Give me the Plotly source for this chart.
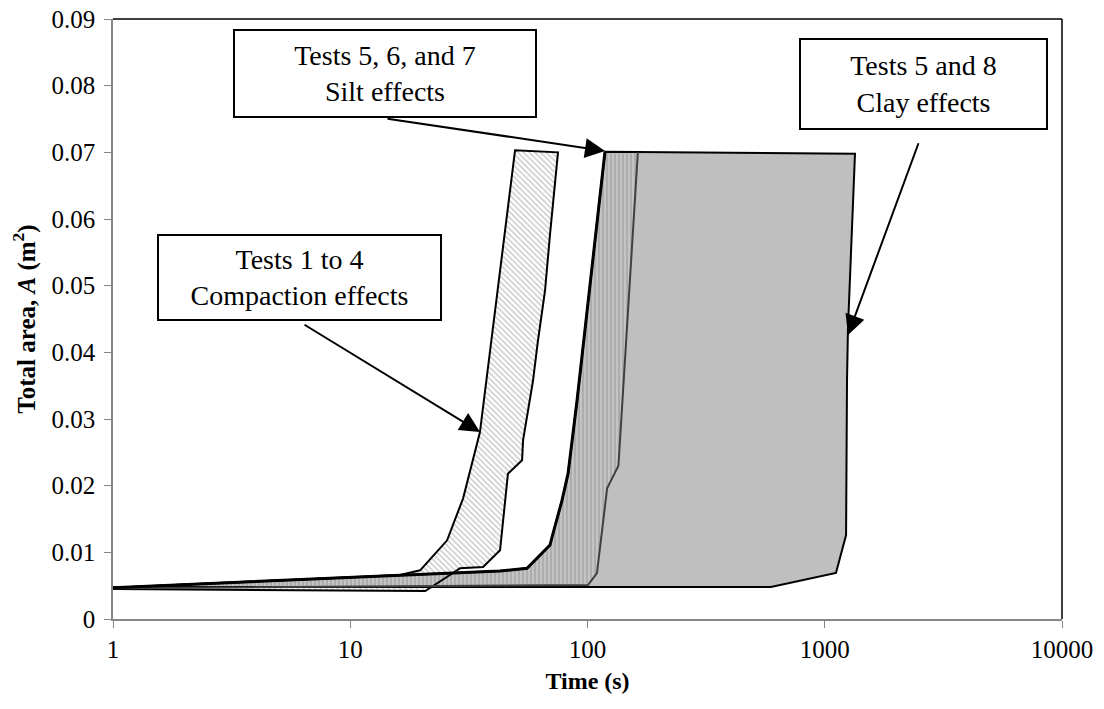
import numpy as np
import plotly.graph_objects as go

# ---- data ----
# Tests 1 to 4 (compaction effects): fastest and slowest curves
comp_fast_t = [1, 16.2, 19.7, 25.6, 29.9, 35.2, 49.5]
comp_fast_A = [0.0047, 0.0066, 0.0073, 0.0118, 0.0181, 0.0280, 0.0703]
comp_slow_t = [1, 20.7, 21.7, 27.1, 29.0, 36.3, 42.8, 46.2, 53.0, 53.5, 58.9, 61.8, 66.2, 69.5, 75.1]
comp_slow_A = [0.0045, 0.0042, 0.0046, 0.0069, 0.0076, 0.0078, 0.0103, 0.0218, 0.0238, 0.0268, 0.0357, 0.0417, 0.0492, 0.0577, 0.0700]

# Tests 5, 6 and 7 (silt effects)
silt_fast_t = [1, 16.2, 42.8, 55.6, 69.5, 70.9, 78.1, 82.8, 86.0, 90.3, 118.5]
silt_fast_A = [0.0047, 0.0066, 0.0072, 0.0076, 0.0111, 0.0123, 0.0178, 0.0218, 0.0268, 0.0327, 0.0701]
silt_slow_t = [1, 100.5, 109.6, 121, 135, 137, 141, 163]
silt_slow_A = [0.0046, 0.0051, 0.0069, 0.0196, 0.0230, 0.0268, 0.0327, 0.0700]

# Tests 5 and 8 (clay effects): slowest curve
clay_slow_t = [1, 593, 1115, 1230, 1241, 1253, 1341]
clay_slow_A = [0.0048, 0.0048, 0.0069, 0.0126, 0.0357, 0.0437, 0.0698]

x_ticks = [1, 10, 100, 1000, 10000]
x_ticktext = ["1", "10", "100", "1000", "10000"]
y_ticks = [0, 0.01, 0.02, 0.03, 0.04, 0.05, 0.06, 0.07, 0.08, 0.09]
y_ticktext = ["0", "0.01", "0.02", "0.03", "0.04", "0.05", "0.06", "0.07", "0.08", "0.09"]

FONT = "Liberation Serif"


def band(t1, a1, t2, a2):
    """closed polygon: first curve forward, second curve backward"""
    xs = list(t1) + list(t2)[::-1] + [t1[0]]
    ys = list(a1) + list(a2)[::-1] + [a1[0]]
    return xs, ys


fig = go.Figure()

# clay region (solid gray)
cx, cy = band(silt_fast_t, silt_fast_A, clay_slow_t, clay_slow_A)
fig.add_trace(go.Scatter(x=cx, y=cy, mode="lines", fill="toself",
                         fillcolor="#bfbfbf", line=dict(width=0), hoverinfo="skip"))

# compaction region (diagonal hatch)
px_, py_ = band(comp_fast_t, comp_fast_A, comp_slow_t, comp_slow_A)
fig.add_trace(go.Scatter(x=px_, y=py_, mode="lines", fill="toself",
                         fillcolor="white",
                         fillpattern=dict(shape="\\", size=4, solidity=0.35,
                                          fgcolor="#8c8c8c", bgcolor="white"),
                         line=dict(width=0), hoverinfo="skip"))

# silt region (vertical hatch)
sx, sy = band(silt_fast_t, silt_fast_A, silt_slow_t, silt_slow_A)
fig.add_trace(go.Scatter(x=sx, y=sy, mode="lines", fill="toself",
                         fillcolor="#c0c0c0",
                         fillpattern=dict(shape="|", size=4, solidity=0.4,
                                          fgcolor="#8a8a8a", bgcolor="#c4c4c4"),
                         line=dict(width=0), hoverinfo="skip"))

# outlines
fig.add_trace(go.Scatter(x=px_, y=py_, mode="lines",
                         line=dict(color="black", width=2), hoverinfo="skip"))
fig.add_trace(go.Scatter(x=cx, y=cy, mode="lines",
                         line=dict(color="black", width=2), hoverinfo="skip"))
fig.add_trace(go.Scatter(x=silt_slow_t, y=silt_slow_A, mode="lines",
                         line=dict(color="#404040", width=2), hoverinfo="skip"))
fig.add_trace(go.Scatter(x=silt_fast_t, y=silt_fast_A, mode="lines",
                         line=dict(color="black", width=3), hoverinfo="skip"))

# ---- layout geometry (page pixels; the page body has an 8px margin) ----
OFF = 8
W, H = 1088, 693
L, T = 113 - OFF, 19 - OFF
PW, PH = 949, 600
R, B = W - L - PW, H - T - PH


def fx(px):
    return (px - OFF - L) / PW


def fy(py):
    return (T + PH - (py - OFF)) / PH


boxes = [
    ("Tests 5, 6, and 7<br>Silt effects", 233, 29, 537, 118),
    ("Tests 1 to 4<br>Compaction effects", 157, 234, 442, 321),
    ("Tests 5 and 8<br>Clay effects", 799, 38, 1048, 130),
]
annotations = []
for text, x0, y0, x1, y1 in boxes:
    annotations.append(dict(
        text=text, xref="paper", yref="paper",
        x=fx((x0 + x1) / 2), y=fy((y0 + y1) / 2),
        xanchor="center", yanchor="middle", showarrow=False,
        width=(x1 - x0) - 4, height=(y1 - y0) - 4,
        bordercolor="black", borderwidth=2, borderpad=0, bgcolor="white",
        font=dict(family=FONT, size=28, color="black"), align="center"))

arrows = [
    ((605, 151), (383, 118)),
    ((480, 432), (300, 322)),
    ((848, 335), (923, 131)),
]
for (tx, ty), (sx0, sy0) in arrows:
    annotations.append(dict(
        text=" ", xref="paper", yref="paper", x=fx(tx), y=fy(ty),
        ax=sx0 - tx, ay=sy0 - ty, axref="pixel", ayref="pixel",
        showarrow=True, arrowhead=2, arrowsize=2, arrowwidth=2,
        arrowcolor="black", standoff=0, startstandoff=0))

fig.update_layout(
    width=W, height=H,
    margin=dict(l=L, r=R, t=T, b=B, autoexpand=False),
    plot_bgcolor="white", paper_bgcolor="white",
    showlegend=False,
    font=dict(family=FONT, size=25, color="black"),
    annotations=annotations,
    shapes=[
        dict(type="line", xref="paper", yref="paper", x0=0, x1=1, y0=1, y1=1,
             line=dict(color="black", width=1.5), layer="above"),
        dict(type="line", xref="paper", yref="paper", x0=1, x1=1, y0=0, y1=1,
             line=dict(color="black", width=1.5), layer="above"),
    ],
)
fig.update_xaxes(type="log", range=[0, 4], tickvals=x_ticks, ticktext=x_ticktext,
                 automargin=False, ticklabeloverflow="allow",
                 showgrid=False, zeroline=False, showline=True, linecolor="#868686",
                 linewidth=1.5, ticks="outside", ticklen=7, tickcolor="#868686",
                 tickfont=dict(family=FONT, size=25, color="black"),
                 title=dict(text="<b>Time (s)</b>", standoff=10,
                            font=dict(family=FONT, size=24, color="black")))
fig.update_yaxes(range=[0, 0.0900001], tickvals=y_ticks, ticktext=y_ticktext,
                 automargin=False, ticklabelstandoff=4, ticklabeloverflow="allow",
                 showgrid=False, zeroline=False, showline=True, linecolor="#868686",
                 linewidth=1.5, ticks="outside", ticklen=7, tickcolor="#868686",
                 tickfont=dict(family=FONT, size=25, color="black"),
                 title=dict(text="<b>Total area, <i>A</i> (m<sup>2</sup>)</b>", standoff=10,
                            font=dict(family=FONT, size=25, color="black")))

fig.write_html("out.html")
